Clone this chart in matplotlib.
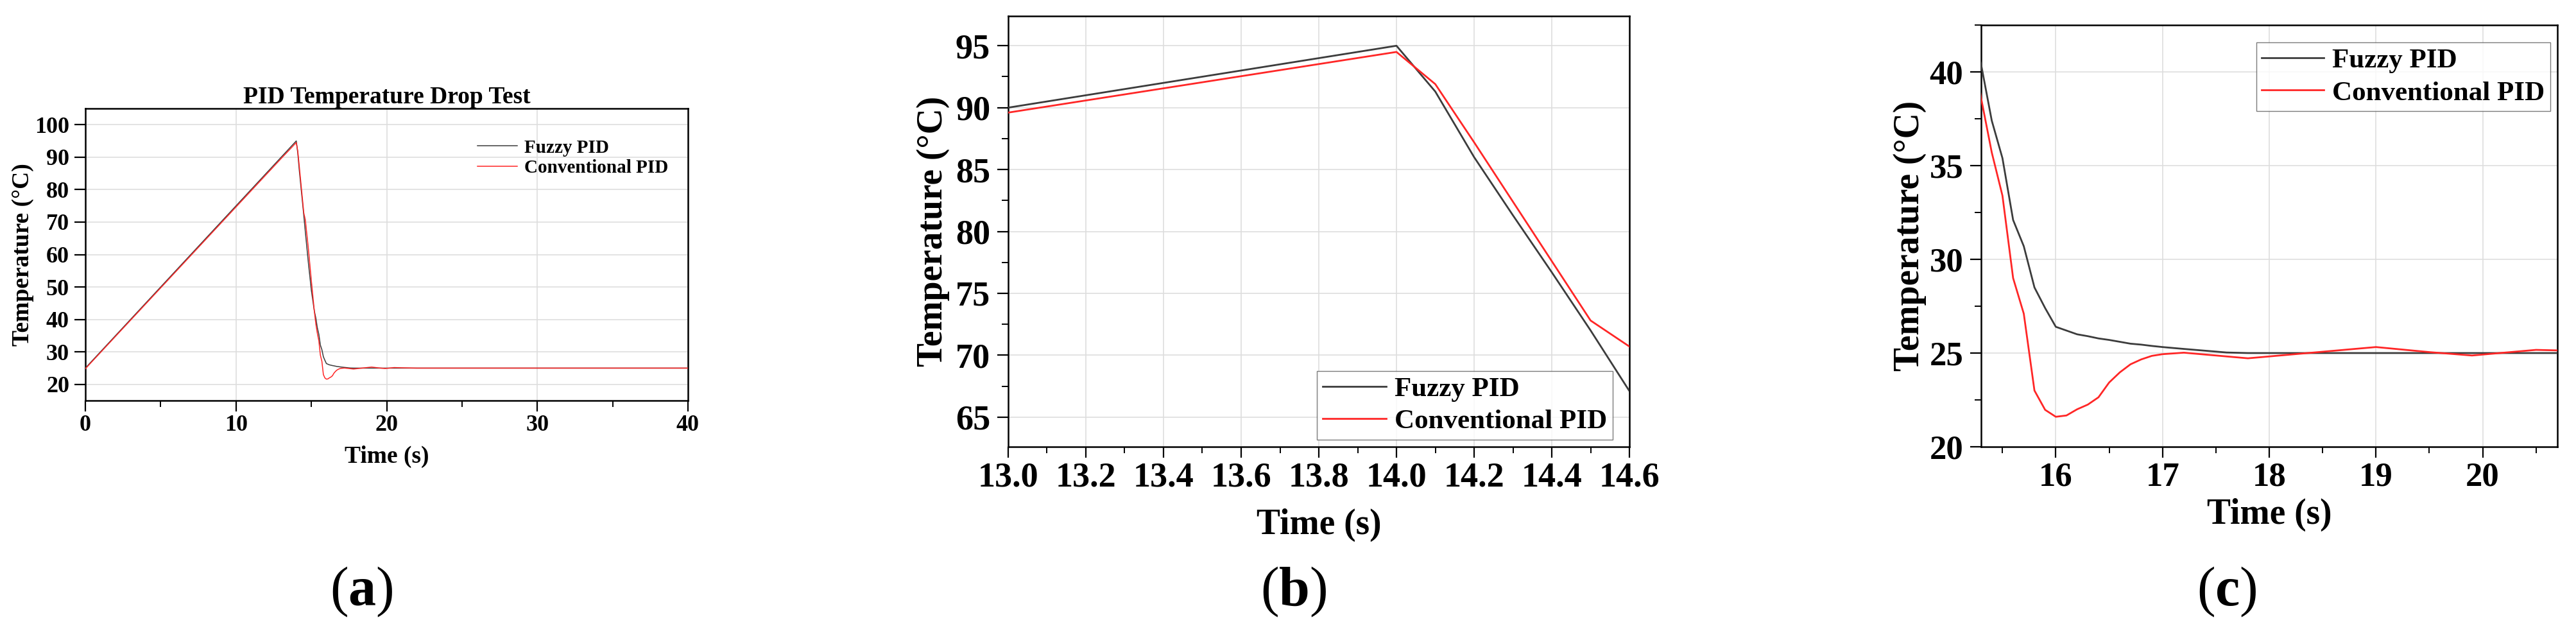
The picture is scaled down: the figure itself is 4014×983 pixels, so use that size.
import matplotlib
matplotlib.use("Agg")
import matplotlib.pyplot as plt
from matplotlib.ticker import MultipleLocator, FormatStrFormatter

plt.rcParams['font.family'] = ['Liberation Serif', 'DejaVu Serif']
plt.rcParams['mathtext.fontset'] = 'custom'
plt.rcParams['mathtext.rm'] = 'Liberation Serif'
plt.rcParams['mathtext.bf'] = 'Liberation Serif:bold'

# ---------------- data ----------------
time = [0.0, 13.0, 14.0, 14.1, 14.2, 14.3, 14.4, 14.5, 14.6, 14.8, 15.0, 15.2,
        15.3, 15.4, 15.5, 15.6, 15.7, 15.8, 15.9, 16.0, 16.1, 16.2, 16.3, 16.4,
        16.5, 16.6, 16.7, 16.8, 16.9, 17.0, 17.2, 17.6, 17.8, 18.0, 18.4, 19.0,
        19.5, 19.9, 20.5, 21.0, 22.0, 40.0]

fuzzy_pid = [25.0, 90.0, 95.0, 91.3, 86.0, 81.3, 76.7, 72.0, 67.1, 57.6, 49.0, 42.6,
             40.4, 37.4, 35.4, 32.1, 30.7, 28.5, 27.4, 26.4, 26.2, 26.0, 25.9, 25.78,
             25.7, 25.6, 25.5, 25.45, 25.38, 25.32, 25.22, 25.03, 25.0, 25.0, 25.0, 25.0,
             25.0, 25.0, 25.0, 25.0, 25.0, 25.0]

conventional_pid = [24.8, 89.6, 94.5, 91.9, 87.2, 82.4, 77.6, 72.8, 70.7, 62.0, 52.0, 42.5,
                    38.6, 35.7, 33.4, 29.0, 27.1, 23.0, 21.97, 21.6, 21.67, 22.0, 22.25, 22.64,
                    23.43, 23.97, 24.4, 24.66, 24.85, 24.94, 25.02, 24.82, 24.72, 24.82, 25.02, 25.32,
                    25.05, 24.87, 25.17, 25.1, 25.0, 25.0]

series_names = ["Fuzzy PID", "Conventional PID"]
panel_titles = ["PID Temperature Drop Test", "", ""]
panel_letters = ["a", "b", "c"]
x_label = "Time (s)"
y_label = "Temperature (°C)"

# ---------------- layout ----------------
W, H = 4014, 983
fig = plt.figure(figsize=(W / 100, H / 100), dpi=100)

def px_axes(l, t, r, b):
    return fig.add_axes([l / W, 1 - b / H, (r - l) / W, (b - t) / H])

axa = px_axes(133, 169, 1072, 624)
axb = px_axes(1571, 25, 2539, 696)
axc = px_axes(3087, 39, 3985, 696)

c_fuzzy = '#3c3c3c'
c_conv = '#ff2626'

cfg = [
    dict(ax=axa, xlim=(0, 40), ylim=(15, 105), xmaj=10, xmin=5, ymaj=10, ymin=None,
         xfmt='%d', lw=1.1, tick=26, lab=27, ylab_x=-0.104, xlab_y=-0.193,
         xpad=4, ypad=6),
    dict(ax=axb, xlim=(13.0, 14.6), ylim=(62.6, 97.4), xmaj=0.2, xmin=0.1, ymaj=5, ymin=2.5,
         xfmt='%.1f', lw=2.0, tick=39, lab=40, ylab_x=-0.121, xlab_y=-0.182,
         xpad=5, ypad=8),
    dict(ax=axc, xlim=(15.3, 20.7), ylim=(20, 42.5), xmaj=1, xmin=0.5, ymaj=5, ymin=2.5,
         xfmt='%d', lw=2.0, tick=38, lab=40, ylab_x=-0.1236, xlab_y=-0.161,
         xpad=5, ypad=8),
]

for i, c in enumerate(cfg):
    ax = c['ax']
    ax.plot(time, fuzzy_pid, color=c_fuzzy, lw=c['lw'], label=series_names[0], zorder=3)
    ax.plot(time, conventional_pid, color=c_conv, lw=c['lw'], label=series_names[1], zorder=3)
    ax.set_xlim(*c['xlim'])
    ax.set_ylim(*c['ylim'])
    ax.xaxis.set_major_locator(MultipleLocator(c['xmaj']))
    ax.xaxis.set_minor_locator(MultipleLocator(c['xmin']))
    ax.yaxis.set_major_locator(MultipleLocator(c['ymaj']))
    if c['ymin']:
        ax.yaxis.set_minor_locator(MultipleLocator(c['ymin']))
    ax.xaxis.set_major_formatter(FormatStrFormatter(c['xfmt']))
    ax.set_axisbelow(True)
    ax.grid(True, which='major', color='#dedede', lw=1.2)
    for s in ax.spines.values():
        s.set_linewidth(1.8)
        s.set_color('black')
    ax.tick_params(which='major', direction='out', length=12, width=1.6,
                   labelsize=c['tick'], top=False, right=False)
    ax.tick_params(which='minor', direction='out', length=7, width=1.4,
                   top=False, right=False)
    ax.tick_params(axis='x', which='major', pad=c['xpad'])
    ax.tick_params(axis='y', which='major', pad=c['ypad'])
    for lbl in ax.get_xticklabels() + ax.get_yticklabels():
        lbl.set_fontweight('bold')
    ax.set_xlabel(x_label, fontsize=c['lab'], fontweight='bold', va='center')
    ax.set_ylabel(y_label, fontsize=c['lab'], fontweight='bold', va='center')
    ax.xaxis.set_label_coords(0.5, c['xlab_y'])
    ax.yaxis.set_label_coords(c['ylab_x'], 0.5)
    if panel_titles[i]:
        ax.set_title(panel_titles[i], fontsize=27, fontweight='bold', pad=2)

# legends
axa.legend(loc='center left', bbox_to_anchor=(0.651, 0.831), frameon=False,
           prop=dict(size=21, weight='bold'), handlelength=2.1, handletextpad=0.38,
           labelspacing=0.15, borderpad=0, borderaxespad=0)

for ax, loc, anchor, hl in [(axb, 'lower right', (0.9727, 0.0164), 2.3),
                            (axc, 'upper right', (0.9878, 0.9589), 2.25)]:
    lg = ax.legend(loc=loc, bbox_to_anchor=anchor, frameon=True, fancybox=False,
                   prop=dict(size=31, weight='bold'), handlelength=hl,
                   handletextpad=0.3, labelspacing=0.27, borderpad=0.2, borderaxespad=0)
    lg.get_frame().set_edgecolor('#5a5a5a')
    lg.get_frame().set_linewidth(1.0)

# panel tags: regular parentheses, bold letter
for letter, xpix in zip(panel_letters, [563, 2016, 3470]):
    fig.text(xpix / W, 1 - 922 / H, "(" + r"$\mathbf{" + letter + "}$" + ")",
             fontsize=62, ha='center', va='center')

fig.savefig('out.png', dpi=100)
